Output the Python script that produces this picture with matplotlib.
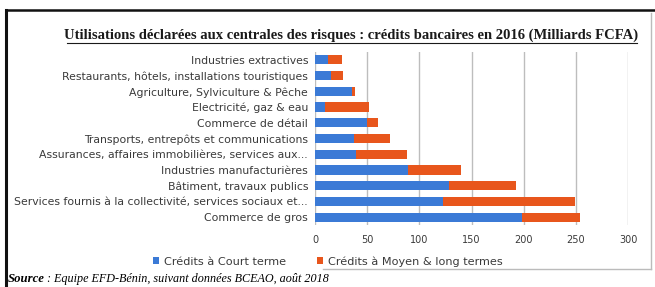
import matplotlib.pyplot as plt
from matplotlib.lines import Line2D

categories = [
    "Industries extractives",
    "Restaurants, hôtels, installations touristiques",
    "Agriculture, Sylviculture & Pêche",
    "Electricité, gaz & eau",
    "Commerce de détail",
    "Transports, entrepôts et communications",
    "Assurances, affaires immobilières, services aux...",
    "Industries manufacturières",
    "Bâtiment, travaux publics",
    "Services fournis à la collectivité, services sociaux et...",
    "Commerce de gros",
]
court_terme = [12, 15, 35, 10, 50, 37, 39, 89, 128, 123, 198]
moyen_long = [14, 12, 3, 42, 10, 35, 49, 51, 65, 126, 56]
x_ticks = [0, 50, 100, 150, 200, 250, 300]

blue = "#3B7AD6"
orange = "#E8561C"
W, H = 655, 287

fig = plt.figure(figsize=(W / 100, H / 100), dpi=100)
ax = fig.add_axes([315 / W, 1 - 225 / H, 313 / W, 173 / H])

ypos = list(range(len(categories)))
ax.barh(ypos, court_terme, height=0.58, color=blue, label="Crédits à Court terme", zorder=3)
ax.barh(ypos, moyen_long, left=court_terme, height=0.58, color=orange,
        label="Crédits à Moyen & long termes", zorder=3)

ax.set_ylim(len(categories) - 0.5, -0.5)
ax.set_xlim(0, 300)
ax.set_xticks(x_ticks)
ax.set_yticks(ypos)
ax.set_yticklabels(categories, fontsize=7.8, family="DejaVu Sans", color="#3a3a3a")
ax.tick_params(axis="x", labelsize=7.0, colors="#3a3a3a", length=0, pad=7)
ax.tick_params(axis="y", length=0, pad=5)
ax.grid(axis="x", color="#BDBDBD", linewidth=1.0, zorder=0)
for s in ax.spines.values():
    s.set_visible(False)

ax.legend(loc="upper left", bbox_to_anchor=(143 / W, 1 - 246 / H), bbox_transform=fig.transFigure,
          ncol=2, frameon=False, prop={"family": "DejaVu Sans", "size": 8.1},
          handlelength=0.5, handleheight=0.5, handletextpad=0.5, columnspacing=2.7,
          labelcolor="#3a3a3a")

# titre et source
fig.text(351 / W, 1 - 35 / H, "Utilisations déclarées aux centrales des risques : crédits bancaires en 2016 (Milliards FCFA)",
         ha="center", va="center", family="Liberation Serif", fontweight="bold", fontsize=10.5,
         color="#1a1a1a")
fig.add_artist(Line2D([67 / W, 637 / W], [1 - 42.5 / H, 1 - 42.5 / H], color="#1a1a1a", lw=0.8))

src = fig.text(8 / W, 1 - 279 / H, "Source", ha="left", va="center", family="Liberation Serif",
               fontstyle="italic", fontweight="bold", fontsize=9.2)
fig.canvas.draw()
bb = src.get_window_extent()
fig.text(bb.x1 / W + 2 / W, 1 - 279 / H, ": Equipe EFD-Bénin, suivant données BCEAO, août 2018", ha="left",
         va="center", family="Liberation Serif", fontstyle="italic", fontsize=8.7)

# cadre
fig.add_artist(Line2D([6 / W, 6 / W], [0, 1 - 10 / H], color="#111111", lw=2.2))
fig.add_artist(Line2D([6 / W, 1], [1 - 10 / H, 1 - 10 / H], color="#111111", lw=1.8))
fig.add_artist(Line2D([651 / W, 651 / W], [1 - 269 / H, 1 - 13 / H], color="#BBBBBB", lw=1.0))
fig.add_artist(Line2D([323 / W, 651 / W], [1 - 269 / H, 1 - 269 / H], color="#BBBBBB", lw=1.0))

fig.savefig("out.png", dpi=100)
